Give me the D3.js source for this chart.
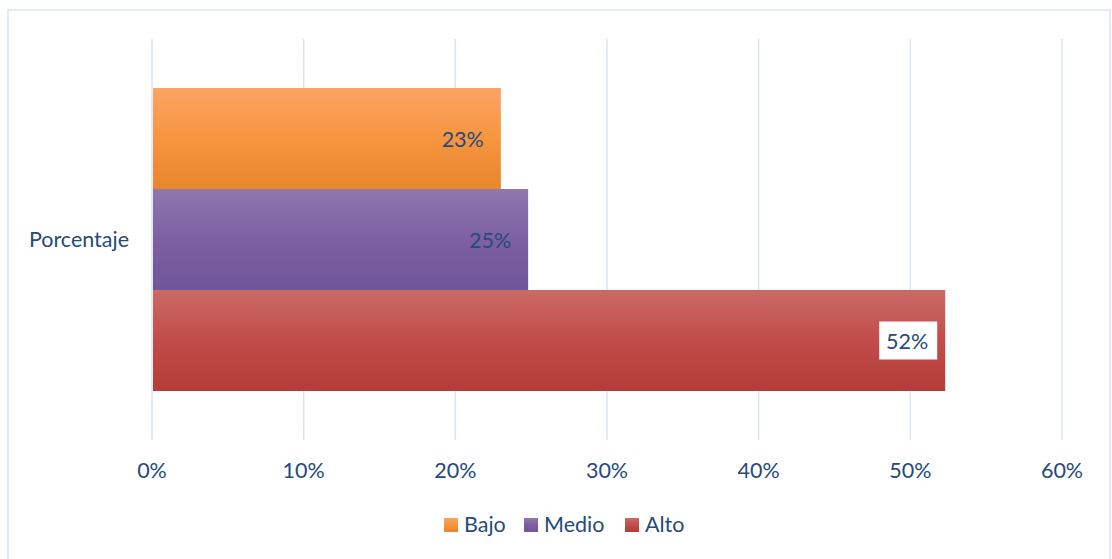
<!DOCTYPE html>
<html>
<head>
<meta charset="utf-8">
<script src="https://cdnjs.cloudflare.com/ajax/libs/d3/7.8.5/d3.min.js"></script>
<style>
  body { margin: 0; background: #fff; }
  text { font-family: Lato, "Open Sans", sans-serif; fill: #254a7c; font-size: 21.5px; }
</style>
</head>
<body>
<div id="chart"></div>
<script>
const categories = ["Porcentaje"];
const seriesNames = ["Bajo", "Medio", "Alto"];
const seriesValues = [0.23, 0.248, 0.523];
const valueLabels = ["23%", "25%", "52%"];
const tickValues = [0, 0.1, 0.2, 0.3, 0.4, 0.5, 0.6];

const colors = {
    Bajo: ["#faa464", "#f7953f", "#e8862e"],
    Medio: ["#8f78ad", "#7d5fa2", "#71559a"],
    Alto: ["#c96b66", "#c24c49", "#b43c39"]
};

const width = 1112, height = 559;
const svg = d3.select("#chart").append("svg")
    .attr("width", width)
    .attr("height", height);

// frame
svg.append("rect")
    .attr("x", 8).attr("y", 10)
    .attr("width", 1102).attr("height", 560)
    .attr("fill", "none")
    .attr("stroke", "#d9e3f2")
    .attr("stroke-width", 1.5);

const defs = svg.append("defs");
seriesNames.forEach(name => {
    const grad = defs.append("linearGradient")
        .attr("id", "grad-" + name)
        .attr("x1", 0).attr("y1", 0).attr("x2", 0).attr("y2", 1);
    colors[name].forEach((c, i) => {
        grad.append("stop").attr("offset", (i / 2 * 100) + "%").attr("stop-color", c);
    });
});

const x = d3.scaleLinear().domain([0, 0.6]).range([152, 1062]);
const yCat = d3.scaleBand().domain(categories).range([39, 440]);
const ySeries = d3.scaleBand().domain(seriesNames)
    .range([88, 391]);

// gridlines
svg.append("g")
    .selectAll("line")
    .data(tickValues)
    .enter().append("line")
    .attr("x1", d => x(d)).attr("x2", d => x(d))
    .attr("y1", 39).attr("y2", 440)
    .attr("stroke", "#d9e3f2")
    .attr("stroke-width", 1.5);

// tick labels
svg.append("g")
    .selectAll("text")
    .data(tickValues)
    .enter().append("text")
    .attr("x", d => x(d))
    .attr("y", 478)
    .attr("text-anchor", "middle")
    .text(d => d3.format(".0%")(d));

// category label
svg.append("text")
    .attr("x", 129)
    .attr("y", yCat(categories[0]) + yCat.bandwidth() / 2 + 7)
    .attr("text-anchor", "end")
    .text(categories[0]);

// bars
const bars = svg.append("g")
    .selectAll("g")
    .data(seriesNames)
    .enter().append("g");

bars.append("rect")
    .attr("x", x(0) + 1)
    .attr("y", d => ySeries(d))
    .attr("width", (d, i) => x(seriesValues[i]) - x(0) - 1)
    .attr("height", ySeries.bandwidth())
    .attr("fill", d => "url(#grad-" + d + ")");

// white box behind the last label
bars.filter((d, i) => i === 2).append("rect")
    .attr("x", x(seriesValues[2]) - 66)
    .attr("y", d => ySeries(d) + ySeries.bandwidth() / 2 - 19)
    .attr("width", 58)
    .attr("height", 38)
    .attr("fill", "#fff");

bars.append("text")
    .attr("x", (d, i) => x(seriesValues[i]) - 17)
    .attr("y", d => ySeries(d) + ySeries.bandwidth() / 2 + 8)
    .attr("text-anchor", "end")
    .text((d, i) => valueLabels[i]);

// legend
const legendX = [444, 524, 625];
const legend = svg.append("g")
    .selectAll("g")
    .data(seriesNames)
    .enter().append("g")
    .attr("transform", (d, i) => `translate(${legendX[i]},518)`);

legend.append("rect")
    .attr("width", 14).attr("height", 14)
    .attr("fill", d => "url(#grad-" + d + ")");

legend.append("text")
    .attr("x", 20).attr("y", 14)
    .text(d => d);
</script>
</body>
</html>
